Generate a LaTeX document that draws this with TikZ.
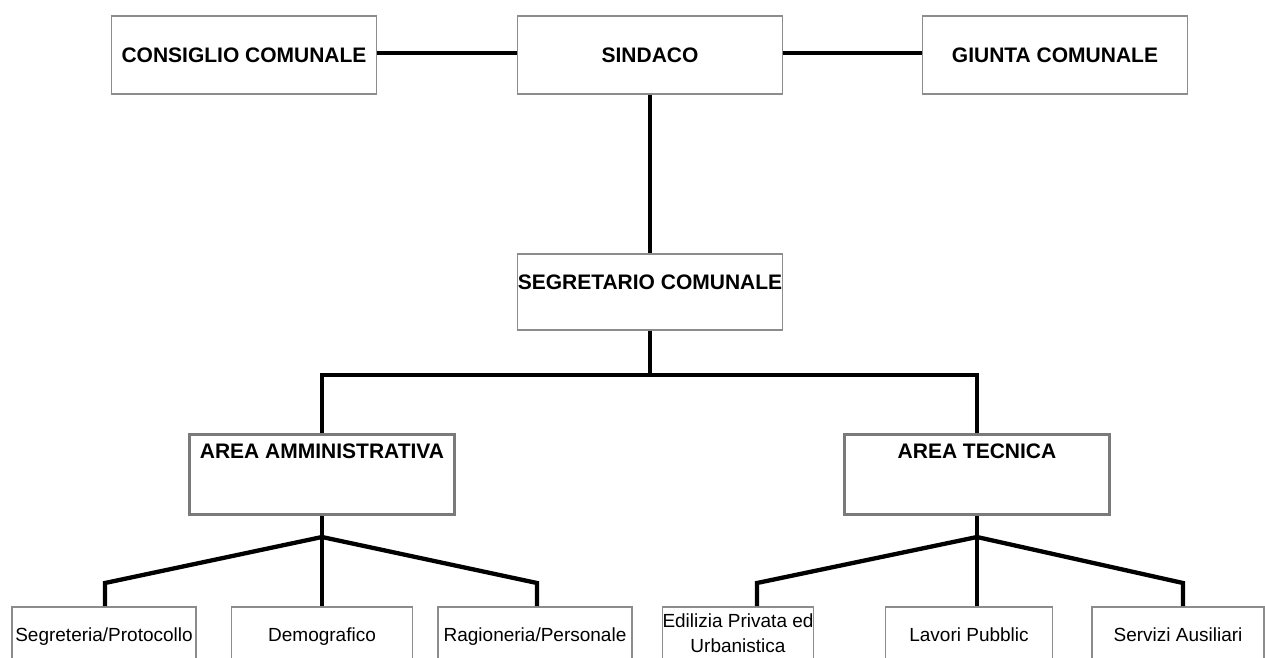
\documentclass[tikz,border=0pt]{standalone}
\usepackage{fontspec}
\setmainfont{Liberation Sans}
\definecolor{boxgray}{HTML}{8C8C8C}
\definecolor{areagray}{HTML}{7A7A7A}
\tikzset{block/.style = {draw=boxgray, fill=white, line width=1.5pt, rectangle, inner sep=0pt, minimum width=265pt, minimum height=78pt, font=\fontsize{21}{25}\selectfont\bfseries},
         ablock/.style={draw=areagray, fill=white, line width=3pt, rectangle, inner sep=0pt, minimum width=265pt, text height=24pt, text depth=56pt, anchor=north, font=\fontsize{21}{25}\selectfont\bfseries},
         sblock/.style={draw=boxgray, fill=white, line width=1.5pt, rectangle, inner sep=0pt, text height=35pt, text depth=45pt, anchor=north, align=center, font=\fontsize{19}{25}\selectfont},
         link/.style= {line width=4.3pt}}

\begin{document}
\begin{tikzpicture}[x=1pt,y=-1pt]
        \useasboundingbox(0,0)rectangle(1265,657);
        \clip(0,0)rectangle(1265,657);
        % vertici
        \node[block](consiglio)at(244,55){CONSIGLIO COMUNALE};
        \node[block](sindaco)at(650,55){SINDACO};
        \node[block](giunta)at(1055,55){GIUNTA COMUNALE};
        \node[block,anchor=north,minimum height=0pt,text height=36pt,text depth=40pt](segretario)at(650,253){SEGRETARIO COMUNALE};
        % aree
        \node[ablock](amm)at(322,433){AREA AMMINISTRATIVA};
        \node[ablock](tec)at(977,433){AREA TECNICA};
        % uffici
        \node[sblock,minimum width=184pt](segreteria)at(104,606){Segreteria/Protocollo};
        \node[sblock,minimum width=181pt](demografico)at(322,606){Demografico};
        \node[sblock,minimum width=194pt](ragioneria)at(535,606){Ragioneria/Personale};
        \node[sblock,minimum width=150pt,text height=46pt,text depth=34pt](edilizia)at(738,606){Edilizia Privata ed\\Urbanistica};
        \node[sblock,minimum width=167pt](lavori)at(969,606){Lavori Pubblic};
        \node[sblock,minimum width=172pt](servizi)at(1178,606){Servizi Ausiliari};
        % collegamenti
        \coordinate(bus)at(650,375);
        \coordinate(ja)at(322,537);
        \coordinate(kseg)at(105,583);
        \coordinate(krag)at(537,583);
        \coordinate(jt)at(977,537);
        \coordinate(kedi)at(757,583);
        \coordinate(kser)at(1183,583);
        \draw[link](consiglio.east|-0,53)--(sindaco.west|-0,53);
        \draw[link](sindaco.east|-0,53)--(giunta.west|-0,53);
        \draw[link](sindaco)--(segretario);
        \draw[link](segretario)--(bus);
        \draw[link](amm.north)--(amm.north|-bus)--(tec.north|-bus)--(tec.north);
        \draw[link](amm.south)--(ja)--(demografico.north);
        \draw[link](ja)--(kseg)--(kseg|-segreteria.north);
        \draw[link](ja)--(krag)--(krag|-ragioneria.north);
        \draw[link](tec.south)--(jt)--(jt|-lavori.north);
        \draw[link](jt)--(kedi)--(kedi|-edilizia.north);
        \draw[link](jt)--(kser)--(kser|-servizi.north);
    \end{tikzpicture}
\end{document}
